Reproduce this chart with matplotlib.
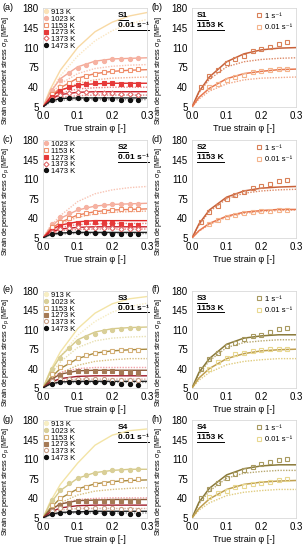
import matplotlib.pyplot as plt
from matplotlib.lines import Line2D

plt.rcParams['font.family'] = ['Liberation Sans', 'DejaVu Sans']

# strain positions of measured points and of the model curves
strain_pts = [0.025, 0.05, 0.075, 0.1, 0.125, 0.15, 0.175, 0.2, 0.225, 0.25, 0.275]
strain_fit = [0, 0.02, 0.05, 0.1, 0.15, 0.2, 0.25, 0.3]
yticks = [5, 40, 75, 110, 145, 180]
xticks = [0.0, 0.1, 0.2, 0.3]

# ---- S1, 0.01 1/s (a)
s1_pts = {
    1023: [35, 52, 65, 74, 80, 84, 87, 89, 90, 90, 91],
    1153: [28, 40, 48, 55, 60, 63, 66, 69, 70, 71, 72],
    1273: [22, 33, 40, 44, 46, 47, 47, 47, 46, 46, 45],
    1373: [20, 27, 30, 31, 31, 30, 30, 29, 28, 28, 27],
    1473: [17, 20, 21, 21, 20, 20, 19, 19, 18, 17, 17],
}
s1_fit = {
    913: [5, 35, 70, 110, 138, 155, 166, 172],
    1023: [5, 30, 55, 76, 86, 90, 91, 92],
    1153: [5, 22, 39, 56, 64, 68, 70, 71],
    1273: [5, 21, 35, 44, 46, 47, 47, 47],
    1373: [5, 18, 27, 31, 32, 32, 32, 32],
    1473: [5, 15, 20, 21, 21, 21, 21, 21],
}
s1_alt = {
    913: [5, 30, 60, 95, 122, 140, 152, 160],
    1023: [5, 26, 46, 64, 73, 77, 79, 80],
    1153: [5, 20, 33, 47, 53, 56, 57, 58],
    1273: [5, 18, 29, 37, 39, 40, 40, 40],
    1373: [5, 15, 22, 25, 26, 26, 26, 26],
    1473: [5, 13, 17, 18, 18, 18, 18, 18],
}

# ---- S2, 0.01 1/s (c)
s2_pts = {
    1023: [30, 42, 50, 56, 60, 62, 64, 65, 66, 66, 66],
    1153: [24, 34, 41, 46, 50, 52, 54, 55, 56, 56, 56],
    1273: [18, 26, 30, 32, 33, 33, 32, 31, 30, 29, 28],
    1373: [15, 21, 23, 24, 23, 23, 22, 22, 21, 21, 21],
    1473: [12, 14, 15, 15, 14, 14, 14, 13, 13, 12, 12],
}
s2_fit = {
    1023: [5, 23, 40, 55, 62, 65, 66, 67],
    1153: [5, 20, 33, 46, 52, 55, 56, 57],
    1273: [5, 18, 28, 34, 36, 36, 36, 36],
    1373: [5, 15, 21, 24, 25, 25, 25, 25],
    1473: [5, 11, 14, 15, 15, 15, 15, 15],
}
s2_alt = {
    1023: [5, 25, 45, 70, 84, 91, 95, 97],
    1153: [5, 18, 30, 42, 48, 51, 52, 53],
    1273: [5, 16, 24, 29, 30, 31, 31, 31],
    1373: [5, 13, 18, 20, 21, 21, 21, 21],
    1473: [5, 10, 12, 13, 13, 13, 13, 13],
}

# ---- S3, 0.01 1/s (e)
s3_pts = {
    1023: [40, 60, 77, 88, 97, 103, 107, 110, 112, 113, 114],
    1153: [30, 42, 52, 59, 64, 68, 70, 72, 73, 74, 74],
    1273: [20, 28, 33, 35, 36, 36, 36, 35, 34, 33, 32],
    1373: [17, 21, 22, 22, 22, 21, 21, 20, 20, 20, 19],
    1473: [13, 15, 16, 16, 16, 15, 15, 14, 13, 12, 11],
}
s3_fit = {
    913: [5, 35, 70, 112, 140, 157, 166, 170],
    1023: [5, 33, 62, 92, 106, 112, 114, 115],
    1153: [5, 22, 40, 58, 68, 72, 74, 75],
    1273: [5, 19, 30, 36, 37, 37, 37, 37],
    1373: [5, 15, 22, 26, 27, 27, 27, 27],
    1473: [5, 12, 16, 17, 17, 17, 17, 17],
}
s3_alt = {
    913: [5, 30, 62, 100, 125, 142, 152, 158],
    1023: [5, 28, 52, 78, 90, 95, 97, 98],
    1153: [5, 18, 32, 46, 53, 56, 58, 58],
    1273: [5, 20, 33, 40, 42, 42, 42, 42],
    1373: [5, 13, 18, 21, 21, 21, 21, 21],
    1473: [5, 11, 14, 15, 15, 15, 15, 15],
}

# ---- S4, 0.01 1/s (g)
s4_pts = {
    1023: [38, 55, 68, 76, 82, 86, 88, 90, 91, 91, 92],
    1153: [28, 40, 50, 56, 61, 65, 68, 70, 72, 73, 74],
    1273: [20, 28, 32, 35, 36, 36, 36, 36, 36, 36, 35],
    1373: [18, 22, 23, 23, 23, 22, 22, 22, 21, 21, 20],
    1473: [12, 14, 15, 15, 15, 15, 14, 14, 14, 13, 13],
}
s4_fit = {
    913: [5, 33, 65, 103, 135, 153, 161, 164],
    1023: [5, 30, 54, 76, 86, 90, 92, 92],
    1153: [5, 22, 40, 57, 66, 70, 72, 73],
    1273: [5, 19, 30, 36, 37, 38, 38, 38],
    1373: [5, 15, 23, 27, 28, 28, 28, 28],
    1473: [5, 11, 15, 16, 17, 17, 17, 17],
}
s4_alt = {
    1153: [5, 18, 32, 46, 53, 56, 58, 59],
    1273: [5, 18, 30, 38, 40, 41, 41, 41],
    1373: [5, 13, 19, 22, 22, 22, 22, 22],
    1473: [5, 10, 13, 14, 14, 14, 14, 14],
}

# ---- 1153 K, two strain rates (b, d, f, h): 1 1/s and 0.01 1/s
b_fast_pts = [40, 59, 71, 82, 90, 96, 104, 108, 111, 116, 120]
b_fast_fit = [5, 32, 58, 85, 99, 106, 109, 110]
b_fast_alt = [5, 30, 54, 76, 85, 89, 91, 92]
b_slow_pts = [40, 46, 52, 58, 62, 66, 68, 70, 72, 73]
b_slow_fit = [5, 22, 38, 55, 64, 68, 71, 72]
b_slow_alt = [5, 19, 33, 46, 53, 56, 57, 58]

d_fast_pts = [33, 51, 63, 74, 82, 88, 94, 98, 101, 106, 109]
d_fast_fit = [5, 30, 55, 78, 89, 94, 96, 97]
d_fast_alt = [5, 28, 52, 75, 85, 89, 91, 92]
d_slow_pts = [30, 37, 42, 46, 49, 51, 53, 54, 55, 55]
d_slow_fit = [5, 18, 31, 44, 51, 54, 56, 56]
d_slow_alt = [5, 17, 29, 42, 49, 52, 54, 55]

f_fast_pts = [40, 57, 69, 80, 86, 94, 98, 101, 106, 111, 113]
f_fast_fit = [5, 33, 58, 84, 95, 99, 101, 101]
f_fast_alt = [5, 30, 54, 78, 87, 90, 92, 92]
f_slow_pts = [40, 52, 60, 66, 69, 72, 73, 75, 75, 76]
f_slow_fit = [5, 23, 40, 58, 67, 72, 74, 75]
f_slow_alt = [5, 19, 33, 47, 53, 56, 58, 58]

h_fast_pts = [40, 56, 68, 76, 83, 90, 96, 102, 105, 108, 111]
h_fast_fit = [5, 33, 58, 82, 93, 98, 100, 100]
h_fast_alt = [5, 30, 53, 76, 85, 88, 90, 90]
h_slow_pts = [42, 49, 54, 60, 63, 66, 68, 70, 72, 74]
h_slow_fit = [5, 22, 39, 56, 65, 69, 71, 72]
h_slow_alt = [5, 19, 32, 45, 51, 54, 56, 56]

# colours: (marker, solid line, dotted line)
red_cols = {
    913: ('#fbe3b8', '#f8d9a4', '#fbe6c2'),
    1023: ('#f6b2a2', '#f3a896', '#f8c4b4'),
    1153: ('#ef9470', '#ec7f5c', '#f4ae8e'),
    1273: ('#e63a3a', '#e02828', '#ef8080'),
    1373: ('#e06a6a', '#c81e2a', '#e88484'),
    1473: ('#111111', '#222222', '#9a9a9a'),
}
brown_cols = {
    913: ('#f7eec4', '#f3e4a6', '#f6ecc2'),
    1023: ('#d9cf98', '#d6ca8a', '#e8e0b2'),
    1153: ('#d4b078', '#a88a40', '#d8c082'),
    1273: ('#a57a55', '#8a5a3a', '#f2a0a8'),
    1373: ('#c8a088', '#a01c2a', '#d8b0a0'),
    1473: ('#111111', '#222222', '#9a9a9a'),
}
red_shapes = {913: ('o', True), 1023: ('o', True), 1153: ('s', False),
              1273: ('s', True), 1373: ('D', False), 1473: ('o', True)}
brown_shapes = {913: ('o', True), 1023: ('o', True), 1153: ('s', False),
                1273: ('s', True), 1373: ('o', False), 1473: ('o', True)}

fig = plt.figure(figsize=(3.06, 5.5), dpi=100)

lx, rx, w = 43 / 306, 192 / 306, 104 / 306
rows = [(8, 107), (140, 238), (291, 388), (420, 518)]

def make_ax(x0, top, bot, letter, lab_x):
    ax = fig.add_axes([x0, 1 - bot / 550, w, (bot - top) / 550])
    ax.set_xlim(0, 0.3)
    ax.set_ylim(5, 180)
    ax.set_xticks(xticks)
    ax.set_xticklabels(['%.1f' % t for t in xticks])
    ax.set_yticks(yticks)
    ax.tick_params(length=0, labelsize=7, pad=3)
    for s in ax.spines.values():
        s.set_color('#d9d9d9')
        s.set_linewidth(0.6)
    ax.set_xlabel('True strain φ [-]', fontsize=6.5, labelpad=2)
    ax.set_ylabel('Strain dependent stress σ$_\\mathrm{p}$ [MPa]', fontsize=5.2)
    ax.yaxis.set_label_coords(lab_x, 0.37)
    fig.text(x0 - 41 / 306, 1 - (top - 1) / 550, '(%s)' % letter, fontsize=6.5,
             ha='left', va='center')
    return ax

underlines = []

def tag_text(ax, x, y, s):
    t = ax.text(x, y, s, transform=ax.transAxes, fontsize=6, fontweight='bold',
                ha='left', va='center')
    underlines.append((ax, t))

def left_panel(ax, pts, fit, alt, cols, shapes, name):
    for T, ys in alt.items():
        ax.plot(strain_fit, ys, ls=(0, (1, 1)), lw=1.0, color=cols[T][2], zorder=2)
    for T, ys in fit.items():
        ax.plot(strain_fit, ys, lw=1.0, color=cols[T][1], zorder=3)
    for T, ys in pts.items():
        m, filled = shapes[T]
        c = cols[T][0]
        ax.plot(strain_pts, ys, ls='none', marker=m, ms=3 if m != 'D' else 2.6,
                mfc=c if filled else 'white', mec=c, mew=0.8, zorder=4)
    handles = []
    for T in fit:
        m, filled = shapes[T]
        c = cols[T][0]
        handles.append(Line2D([], [], ls='none', marker=m, ms=3 if m != 'D' else 2.6,
                              mfc=c if filled else 'white', mec=c, mew=0.8,
                              label='%d K' % T))
    ax.legend(handles=handles, loc='upper left', fontsize=5.5, frameon=False,
              handlelength=0.6, handletextpad=0.3, labelspacing=-0.08,
              borderaxespad=0.05, borderpad=0.05)
    tag_text(ax, 0.72, 0.92, name)
    tag_text(ax, 0.72, 0.82, '0.01 s⁻¹')

def right_panel(ax, fp, ff, fa, sp, sf, sa, fcol, scol, name):
    ax.plot(strain_fit, fa, ls=(0, (1, 1)), lw=1.0, color=fcol[2], zorder=2)
    ax.plot(strain_fit, sa, ls=(0, (1, 1)), lw=1.0, color=scol[2], zorder=2)
    ax.plot(strain_fit, ff, lw=1.1, color=fcol[1], zorder=3)
    ax.plot(strain_fit, sf, lw=1.1, color=scol[1], zorder=3)
    ax.plot(strain_pts, fp, ls='none', marker='s', ms=3.5, mfc='none',
            mec=fcol[0], mew=0.8, zorder=4, label='1 s⁻¹')
    ax.plot(strain_pts[1:], sp, ls='none', marker='s', ms=3.5, mfc='none',
            mec=scol[0], mew=0.8, zorder=4, label='0.01 s⁻¹')
    ax.legend(loc='upper right', fontsize=5.5, frameon=False, handlelength=0.6,
              handletextpad=0.4, labelspacing=0.6, borderaxespad=0.15)
    tag_text(ax, 0.05, 0.92, name)
    tag_text(ax, 0.05, 0.82, '1153 K')

red_fast = ('#d98058', '#c8623a', '#dc8a68')
red_slow = ('#f4b48c', '#e87850', '#f2a888')
olive_fast = ('#a89a60', '#8a7a3a', '#b8a870')
olive_slow = ('#e8d890', '#c0a050', '#e0cc80')

LL, RL = -0.30, -0.255

ax = make_ax(lx, *rows[0], 'a', LL)
left_panel(ax, s1_pts, s1_fit, s1_alt, red_cols, red_shapes, 'S1')
ax = make_ax(rx, *rows[0], 'b', RL)
right_panel(ax, b_fast_pts, b_fast_fit, b_fast_alt, b_slow_pts, b_slow_fit, b_slow_alt,
            red_fast, red_slow, 'S1')

ax = make_ax(lx, *rows[1], 'c', LL)
left_panel(ax, s2_pts, s2_fit, s2_alt, red_cols, red_shapes, 'S2')
ax = make_ax(rx, *rows[1], 'd', RL)
right_panel(ax, d_fast_pts, d_fast_fit, d_fast_alt, d_slow_pts, d_slow_fit, d_slow_alt,
            red_fast, red_slow, 'S2')

ax = make_ax(lx, *rows[2], 'e', LL)
left_panel(ax, s3_pts, s3_fit, s3_alt, brown_cols, brown_shapes, 'S3')
ax = make_ax(rx, *rows[2], 'f', RL)
right_panel(ax, f_fast_pts, f_fast_fit, f_fast_alt, f_slow_pts, f_slow_fit, f_slow_alt,
            olive_fast, olive_slow, 'S3')

ax = make_ax(lx, *rows[3], 'g', LL)
left_panel(ax, s4_pts, s4_fit, s4_alt, brown_cols, brown_shapes, 'S4')
ax = make_ax(rx, *rows[3], 'h', RL)
right_panel(ax, h_fast_pts, h_fast_fit, h_fast_alt, h_slow_pts, h_slow_fit, h_slow_alt,
            olive_fast, olive_slow, 'S4')

# underline the bold tags
fig.canvas.draw()
r = fig.canvas.get_renderer()
for ax, t in underlines:
    bb = t.get_window_extent(r).transformed(ax.transAxes.inverted())
    ax.plot([bb.x0, bb.x1], [bb.y0 - 0.005, bb.y0 - 0.005], transform=ax.transAxes,
            color='black', lw=0.7, clip_on=False)

fig.savefig('out.png', dpi=100)
